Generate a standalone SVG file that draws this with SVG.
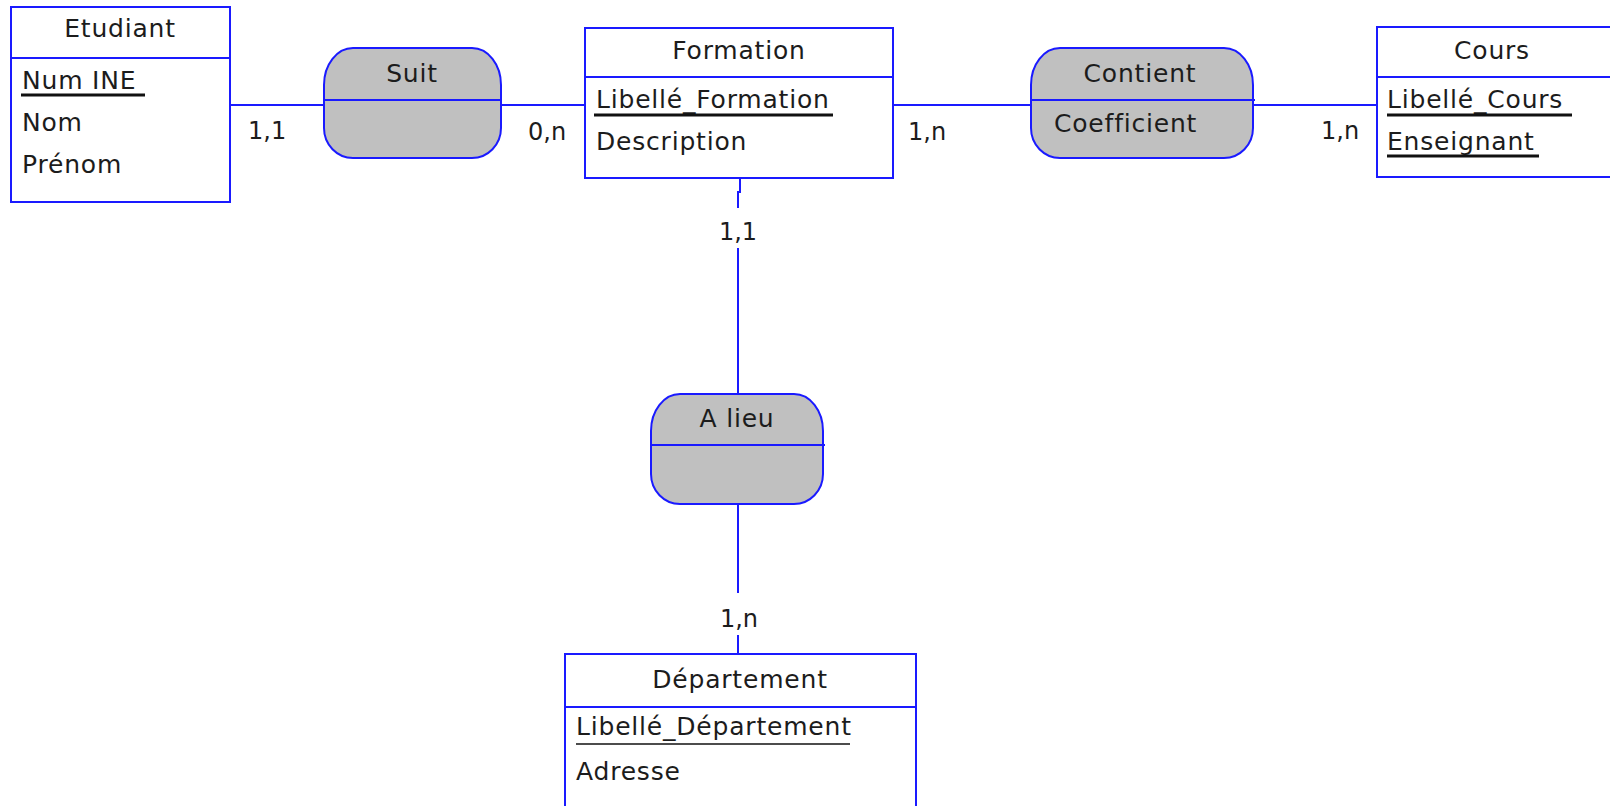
<svg xmlns="http://www.w3.org/2000/svg" width="1610" height="806" viewBox="0 0 1610 806">
  <style>
    .ent { fill: #ffffff; stroke: #1a1aff; stroke-width: 2; }
    .rel { fill: #c0c0c0; stroke: #1a1aff; stroke-width: 2; }
    .sep { stroke: #1a1aff; stroke-width: 2; }
    .link { stroke: #1a1aff; stroke-width: 2; fill: none; }
    text { font-family: "DejaVu Sans", "Liberation Sans", sans-serif; font-size: 25px; letter-spacing: 0.8px; fill: #1c1c1c; }
    .title { text-anchor: middle; }
    .card { font-size: 24px; letter-spacing: 0; }
    .key { stroke: #111111; stroke-width: 3; }
    .keythin { stroke: #111111; stroke-width: 1.5; }
  </style>
  <rect width="1610" height="806" fill="#ffffff"/>

  <!-- connectors (drawn under the shapes) -->
  <g id="connectors">
    <path class="link" d="M230 105 H324"/>
    <path class="link" d="M501 105 H585"/>
    <path class="link" d="M893 105 H1031"/>
    <path class="link" d="M1253 105 H1377"/>
    <path class="link" d="M740 178 V192 H738 V208 M738 248 V394"/>
    <path class="link" d="M738 504 V593 M738 635 V654"/>
    <text class="card" x="248" y="139">1,1</text>
    <text class="card" x="528" y="140">0,n</text>
    <text class="card" x="908" y="140">1,n</text>
    <text class="card" x="1321" y="139">1,n</text>
    <text class="card title" x="738" y="240">1,1</text>
    <text class="card title" x="739" y="627">1,n</text>
  </g>

  <!-- entity: Etudiant -->
  <g id="etudiant">
    <rect class="ent" x="11" y="7" width="219" height="195"/>
    <line class="sep" x1="11" y1="58" x2="230" y2="58"/>
    <text class="title" x="120" y="37">Etudiant</text>
    <text x="22" y="89">Num INE</text>
    <line class="key" x1="21" y1="95" x2="145" y2="95"/>
    <text x="22" y="131">Nom</text>
    <text x="22" y="173">Prénom</text>
  </g>

  <!-- association: Suit -->
  <g id="suit">
    <path class="rel" d="M353 48 H472 A29 37 0 0 1 501 85 V128 A29 30 0 0 1 472 158 H353 A29 30 0 0 1 324 128 V85 A29 37 0 0 1 353 48 Z"/>
    <line class="sep" x1="324" y1="100" x2="502" y2="100"/>
    <text class="title" x="412" y="82">Suit</text>
  </g>

  <!-- entity: Formation -->
  <g id="formation">
    <rect class="ent" x="585" y="28" width="308" height="150"/>
    <line class="sep" x1="585" y1="77" x2="893" y2="77"/>
    <text class="title" x="739" y="59">Formation</text>
    <text x="596" y="108">Libellé_Formation</text>
    <line class="key" x1="594" y1="115" x2="833" y2="115"/>
    <text x="596" y="150">Description</text>
  </g>

  <!-- association: Contient -->
  <g id="contient">
    <path class="rel" d="M1060 48 H1224 A29 37 0 0 1 1253 85 V128 A29 30 0 0 1 1224 158 H1060 A29 30 0 0 1 1031 128 V85 A29 37 0 0 1 1060 48 Z"/>
    <line class="sep" x1="1031" y1="100" x2="1255" y2="100"/>
    <text class="title" x="1140" y="82">Contient</text>
    <text x="1054" y="132">Coefficient</text>
  </g>

  <!-- entity: Cours (runs past the right edge) -->
  <g id="cours">
    <rect class="ent" x="1377" y="27" width="250" height="150"/>
    <line class="sep" x1="1377" y1="77" x2="1627" y2="77"/>
    <text class="title" x="1492" y="59">Cours</text>
    <text x="1387" y="108">Libellé_Cours</text>
    <line class="key" x1="1387" y1="115" x2="1572" y2="115"/>
    <text x="1387" y="150">Enseignant</text>
    <line class="key" x1="1387" y1="156" x2="1539" y2="156"/>
  </g>

  <!-- association: A lieu -->
  <g id="a-lieu">
    <path class="rel" d="M680 394 H794 A29 37 0 0 1 823 431 V474 A29 30 0 0 1 794 504 H680 A29 30 0 0 1 651 474 V431 A29 37 0 0 1 680 394 Z"/>
    <line class="sep" x1="651" y1="445" x2="825" y2="445"/>
    <text class="title" x="737" y="427">A lieu</text>
  </g>

  <!-- entity: Département -->
  <g id="departement">
    <rect class="ent" x="565" y="654" width="351" height="160"/>
    <line class="sep" x1="565" y1="707" x2="916" y2="707"/>
    <text class="title" x="740" y="688">Département</text>
    <text x="576" y="735">Libellé_Département</text>
    <line class="keythin" x1="576" y1="744" x2="850" y2="744"/>
    <text x="576" y="780">Adresse</text>
  </g>
</svg>
